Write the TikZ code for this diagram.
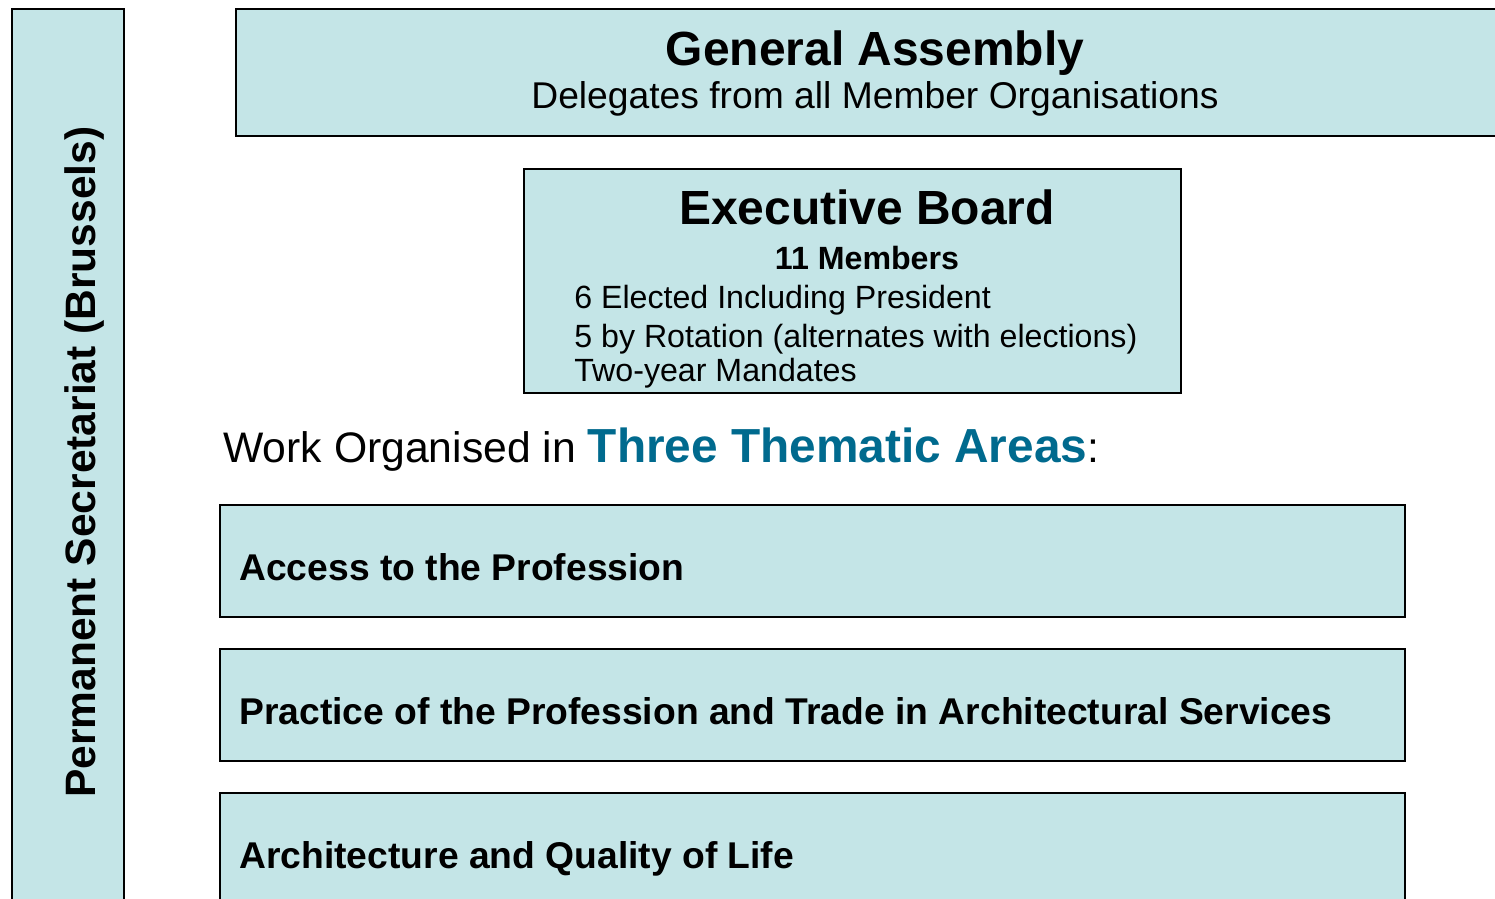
\documentclass[tikz,border=0pt]{standalone}
\usepackage{fontspec}
\setmainfont{Liberation Sans}
\definecolor{boxfill}{HTML}{C4E5E7}
\definecolor{themeblue}{HTML}{006A8E}
\begin{document}
\begin{tikzpicture}[x=0.02cm,y=-0.02cm,
  panel/.style={draw=black,line width=1.1pt,fill=boxfill,rectangle,anchor=north west,inner sep=0pt},
  txt/.style={inner sep=0pt,anchor=base},
  txtl/.style={inner sep=0pt,anchor=base west}]
\clip (0,0) rectangle (1495,899);
\fill[white] (0,0) rectangle (1495,899);
% panels
\node[panel,minimum width=2.24cm,minimum height=18.4cm] (sec) at (11,8) {};
\node[panel,minimum width=25.6cm,minimum height=2.54cm] (ga) at (235,8) {};
\node[panel,minimum width=13.14cm,minimum height=4.48cm] (eb) at (523,168) {};
\node[panel,minimum width=23.7cm,minimum height=2.24cm] (t1) at (219,504) {};
\node[panel,minimum width=23.7cm,minimum height=2.24cm] (t2) at (219,648) {};
\node[panel,minimum width=23.7cm,minimum height=3cm] (t3) at (219,792) {};
% texts
\node[txt,rotate=90,anchor=base west,font=\fontsize{24.2}{28}\selectfont\bfseries] (sect) at (95,798) {Permanent Secretariat (Brussels)};
\node[txt,font=\fontsize{27.3}{32}\selectfont\bfseries] (gat) at (875,65) {General Assembly};
\node[txt,font=\fontsize{21.2}{25}\selectfont] (gas) at (875,108) {Delegates from all Member Organisations};
\node[txt,font=\fontsize{27.3}{32}\selectfont\bfseries] (ebt) at (867,224) {Executive Board};
\node[txt,font=\fontsize{18.3}{22}\selectfont\bfseries] (ebm) at (867,269) {11 Members};
\node[txtl,font=\fontsize{18.3}{22}\selectfont] (eb1) at (574,308) {6 Elected Including President};
\node[txtl,font=\fontsize{18.3}{22}\selectfont] (eb2) at (574,347) {5 by Rotation (alternates with elections)};
\node[txtl,font=\fontsize{18.3}{22}\selectfont] (eb3) at (574,381) {Two-year Mandates};
\node[txtl,font=\fontsize{24.3}{30}\selectfont] (work) at (223,462) {Work Organised in \textcolor{themeblue}{\fontsize{27.2}{30}\selectfont\bfseries Three Thematic Areas}:};
\node[txtl,font=\fontsize{21.2}{25}\selectfont\bfseries] (t1t) at (239,580) {Access to the Profession};
\node[txtl,font=\fontsize{21.2}{25}\selectfont\bfseries] (t2t) at (239,724) {Practice of the Profession and Trade in Architectural Services};
\node[txtl,font=\fontsize{21.2}{25}\selectfont\bfseries] (t3t) at (239,868) {Architecture and Quality of Life};
\end{tikzpicture}
\end{document}
